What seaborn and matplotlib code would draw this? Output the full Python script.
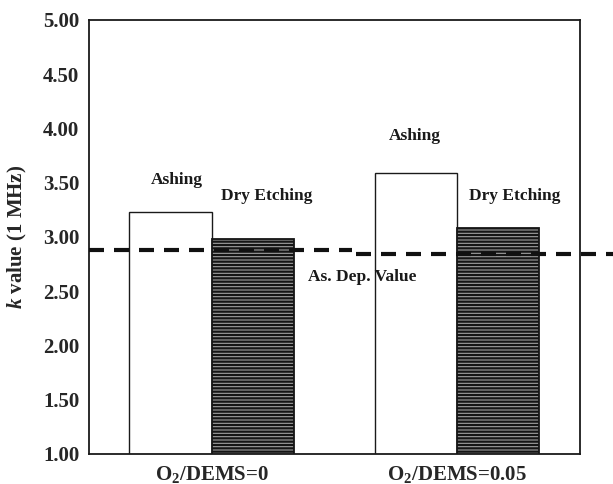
import matplotlib
matplotlib.use("Agg")
import matplotlib.pyplot as plt
import seaborn as sns
import pandas as pd

# Data
conditions = ["O2/DEMS=0", "O2/DEMS=0.05"]
tick_labels = [r"O$_\mathbf{2}$/DEMS=0", r"O$_\mathbf{2}$/DEMS=0.05"]
treatments = ["Ashing", "Dry Etching"]
ashing_k = [3.23, 3.59]
dry_etching_k = [2.98, 3.08]
as_dep_k = [2.88, 2.84]   # as-deposited reference levels (left / right segment)
y_ticks = [1.00, 1.50, 2.00, 2.50, 3.00, 3.50, 4.00, 4.50, 5.00]

df = pd.DataFrame({
    "condition": conditions * 2,
    "treatment": [treatments[0]] * 2 + [treatments[1]] * 2,
    "k": ashing_k + dry_etching_k,
})

sns.set_theme(style="white")
plt.rcParams["font.family"] = ["Liberation Serif", "DejaVu Serif"]
plt.rcParams["font.weight"] = "bold"
plt.rcParams["mathtext.fontset"] = "custom"
plt.rcParams["mathtext.rm"] = "Liberation Serif:bold"
plt.rcParams["mathtext.bf"] = "Liberation Serif:bold"
plt.rcParams["mathtext.it"] = "Liberation Serif:bold:italic"
plt.rcParams["hatch.linewidth"] = 1.6
plt.rcParams["hatch.color"] = "#151515"

fig = plt.figure(figsize=(6.13, 4.84), dpi=100)
ax = fig.add_axes([0.145, 0.062, 0.801, 0.897])

sns.barplot(data=df, x="condition", y="k", hue="treatment", order=conditions,
            hue_order=treatments, width=0.67, ax=ax, legend=False,
            palette=["white", "#a0a0a0"], edgecolor="#1a1a1a", linewidth=1.0,
            saturation=1)

# Hatch the dry-etching bars with dense horizontal stripes
for patch in ax.patches:
    if abs(patch.get_facecolor()[0] - 1.0) > 0.01:
        patch.set_hatch("-----")
        patch.set_edgecolor("#151515")
        patch.set_linewidth(1.3)

ax.set_xlim(-0.5, 1.5)
ax.set_ylim(1.0, 5.0)
ax.set_yticks(y_ticks)
ax.set_yticklabels([f"{v:.2f}" for v in y_ticks], fontsize=15, fontweight="bold")
ax.set_xticks([0, 1])
ax.set_xticklabels(tick_labels, fontsize=15, fontweight="bold")
ax.tick_params(length=0, pad=7)
ax.set_xlabel("")
ax.set_ylabel(r"$\mathit{k}$ value (1 MHz)", fontsize=15, fontweight="bold", labelpad=10)

for s in ax.spines.values():
    s.set_color("#1a1a1a")
    s.set_linewidth(1.3)

# As-deposited reference line (two segments)
dash = dict(color="#111111", lw=3.0, dashes=(3.6, 2.4), clip_on=False, zorder=5)
ax.plot([-0.5, 0.57], [as_dep_k[0], as_dep_k[0]], **dash)
ax.plot([0.59, 1.64], [as_dep_k[1], as_dep_k[1]], **dash)

# Annotations
txt = dict(fontsize=12.5, fontweight="bold", color="#1a1a1a")
ax.text(-0.143, ashing_k[0] + 0.29, "Ashing", ha="center", va="center", **txt)
ax.text(0.224, dry_etching_k[0] + 0.40, "Dry Etching", ha="center", va="center", **txt)
ax.text(0.829, ashing_k[1] + 0.34, "Ashing", ha="center", va="center", **txt)
ax.text(1.233, dry_etching_k[1] + 0.30, "Dry Etching", ha="center", va="center", **txt)
ax.text(0.392, 2.63, "As. Dep. Value", ha="left", va="center", **txt)

fig.savefig("out.png", dpi=100)
